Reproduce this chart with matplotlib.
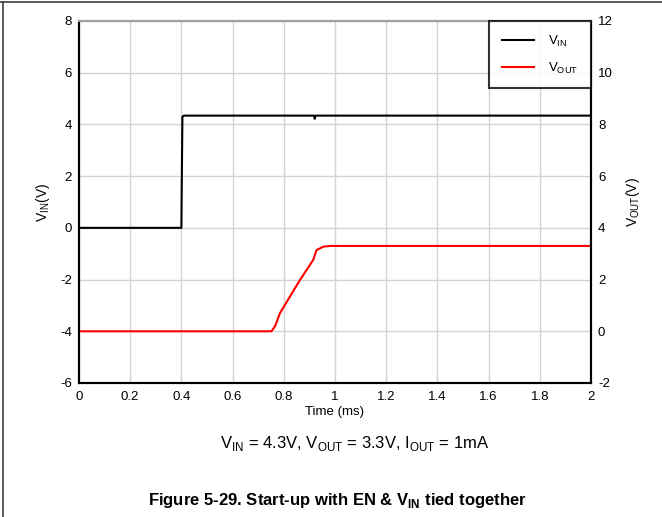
import matplotlib
matplotlib.use("Agg")
import matplotlib.pyplot as plt
from matplotlib.lines import Line2D

plt.rcParams['font.family'] = ['Liberation Sans', 'DejaVu Sans']
plt.rcParams['mathtext.fontset'] = 'custom'
plt.rcParams['mathtext.rm'] = 'Liberation Sans'
plt.rcParams['mathtext.bf'] = 'Liberation Sans:bold'
plt.rcParams['axes.unicode_minus'] = False

# VIN trace (left axis), time in ms
vin_t = [0, 0.400, 0.404, 0.41, 0.918, 0.921, 0.924, 2.0]
vin_v = [0, 0, 4.30, 4.34, 4.34, 4.22, 4.34, 4.34]

# VOUT trace (right axis)
vout_t = [0, 0.752, 0.766, 0.785, 0.863, 0.915, 0.928, 0.954, 0.98, 2.0]
vout_v = [0, 0, 0.2, 0.7, 1.98, 2.76, 3.14, 3.27, 3.30, 3.30]

x_ticks = [0, 0.2, 0.4, 0.6, 0.8, 1, 1.2, 1.4, 1.6, 1.8, 2]
x_labels = ["0", "0.2", "0.4", "0.6", "0.8", "1", "1.2", "1.4", "1.6", "1.8", "2"]
left_ticks = [-6, -4, -2, 0, 2, 4, 6, 8]
right_ticks = [-2, 0, 2, 4, 6, 8, 10, 12]

fig = plt.figure(figsize=(6.62, 5.17), dpi=100)
ax = fig.add_axes([0.1193, 0.2592, 0.7734, 0.7002])
ax2 = ax.twinx()

ax.plot(vin_t, vin_v, color="black", lw=1.5, label=r"V$_{\mathregular{IN}}$")
ax2.plot(vout_t, vout_v, color="red", lw=1.5, label=r"V$_{\mathregular{OUT}}$")

ax.set_xlim(0, 2)
ax.set_ylim(-6, 8)
ax2.set_ylim(-2, 12)
ax.set_xticks(x_ticks)
ax.set_xticklabels(x_labels)
ax.set_yticks(left_ticks)
ax2.set_yticks(right_ticks)

ax.grid(True, color="#d3d3d3", lw=1)
ax.set_axisbelow(True)
for a in (ax, ax2):
    a.tick_params(labelsize=9.5, length=0, pad=5)
    for s in ("left", "right", "bottom"):
        a.spines[s].set_linewidth(1.5)
    a.spines["top"].set_color("#a0a0a0")
    a.spines["top"].set_linewidth(1.5)
ax.tick_params(axis="x", pad=6)

ax.set_xlabel("Time (ms)", fontsize=9.5, labelpad=2)
ax.set_ylabel(r"V$_{\mathregular{IN}}$(V)", fontsize=10, labelpad=6)
ax2.set_ylabel(r"V$_{\mathregular{OUT}}$(V)", fontsize=10, labelpad=8)

h1, l1 = ax.get_legend_handles_labels()
h2, l2 = ax2.get_legend_handles_labels()
leg = ax2.legend(h1 + h2, l1 + l2, loc="upper right", fontsize=9.5, frameon=True,
                 fancybox=False, edgecolor="black", borderaxespad=0,
                 handlelength=2.4, handletextpad=1.1, borderpad=0.95, labelspacing=0.9)
leg.get_frame().set_linewidth(1.5)

fig.text(0.536, 0.143, r"V$_{\mathregular{IN}}$ = 4.3V, V$_{\mathregular{OUT}}$ = 3.3V, I$_{\mathregular{OUT}}$ = 1mA",
         ha="center", va="center", fontsize=12)
fig.text(0.509, 0.032, r"Figure 5-29. Start-up with EN & V$_{\mathbf{IN}}$ tied together",
         ha="center", va="center", fontsize=12, fontweight="bold")

# page frame lines
fig.add_artist(Line2D([0, 1], [0.996, 0.996], color="#404040", lw=1.2, transform=fig.transFigure))
fig.add_artist(Line2D([0.005, 0.005], [0, 0.996], color="#404040", lw=1.2, transform=fig.transFigure))

fig.savefig("out.png", dpi=100)
